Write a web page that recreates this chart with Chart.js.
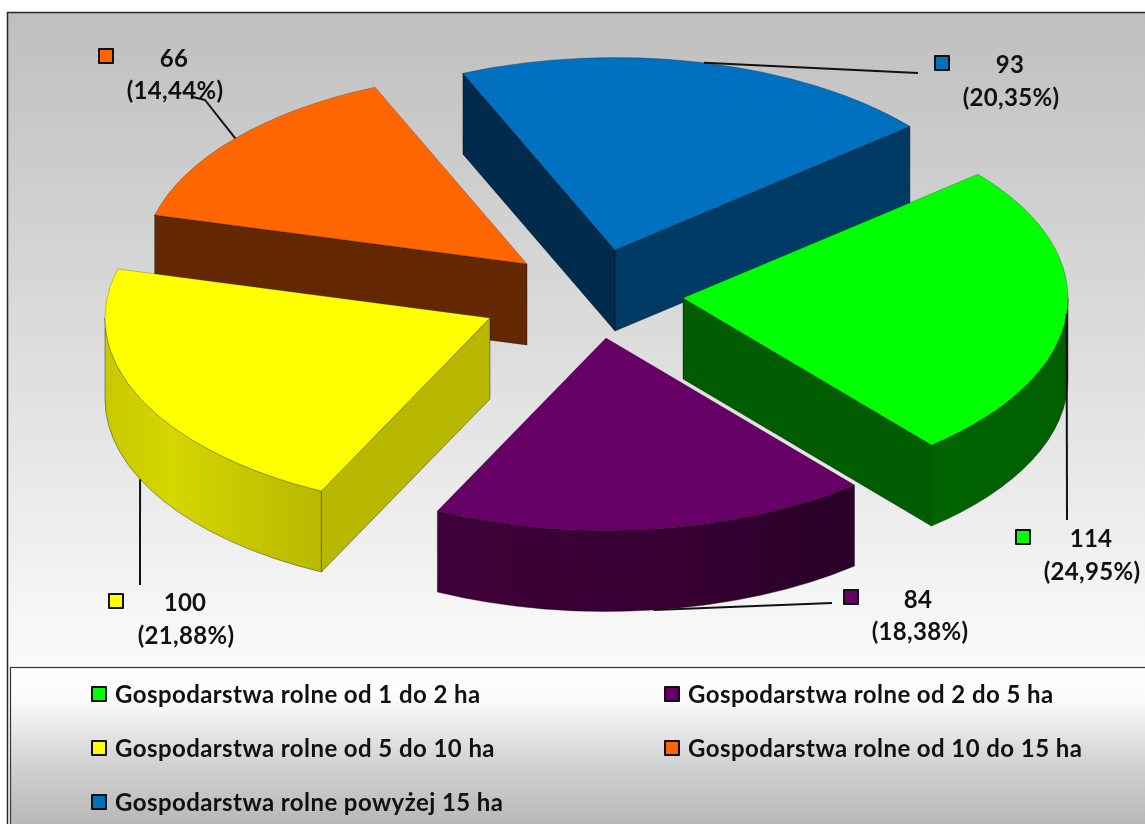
<!DOCTYPE html>
<html><head><meta charset="utf-8">
<style>html,body{margin:0;padding:0;background:#fff}canvas{display:block}</style>
<script src="https://cdn.jsdelivr.net/npm/chart.js@4"></script>
</head><body>
<div style="width:1145px;height:824px;position:relative"><canvas id="c" width="1145" height="824"></canvas></div>
<script>
const categories = ['Gospodarstwa rolne od 1 do 2 ha','Gospodarstwa rolne od 2 do 5 ha','Gospodarstwa rolne od 5 do 10 ha','Gospodarstwa rolne od 10 do 15 ha','Gospodarstwa rolne powyżej 15 ha'];
const values = [114,84,100,66,93];
const topColors = ['#00ff00','#660066','#ffff00','#ff6600','#0070c0'];
const startEdgeColors = ['#005c00','#2a0028','#b8b800','#632800','#002b4c'];
const endEdgeColors = ['#005c00','#2a0028','#b8b800','#632800','#003b66'];
const wallStops = [
  [[0,'#006400'],[1,'#006000']],
  [[0,'#3f0039'],[0.5,'#380034'],[1,'#2a0028']],
  [[0,'#c8c800'],[0.3,'#d6d600'],[1,'#b8b800']],
  [[0,'#632800'],[1,'#632800']],
  [[0,'#003b66'],[1,'#003b66']]
];
const explodeX = [91,14,-102,-65,23];
const explodeY = [2,42,22,-32,-46];
const TILT = 0.5, DEPTH = 81, RADIUS = 385;
const leaderDrop = [0,1,1,0,0];
const labelLayout = [
  {swatch:[1023,537],num:[1091,539],pct:[1092,572],line:[[1067,520]]},
  {swatch:[851,597],num:[918,600],pct:[920,632],line:[[832,603]]},
  {swatch:[116,601],num:[185,603],pct:[186,636],line:[[140,585]]},
  {swatch:[106,56],num:[174,59],pct:[175,91],line:[[205,100],[193,97]]},
  {swatch:[942,63],num:[1010,65],pct:[1011,98],line:[[918,73]]}
];
const legendLayout = [[92,694],[665,694],[92,748],[665,748],[92,802]];
const FONT = 'Lato, Carlito, sans-serif';

function swatch(ctx,cx,cy,color){
  ctx.fillStyle=color;ctx.strokeStyle='#111';ctx.lineWidth=2;
  ctx.fillRect(cx-7,cy-7,14,14);ctx.strokeRect(cx-7,cy-7,14,14);
}
function apex(arc,i){
  return {x:arc.x+explodeX[i],y:arc.y+explodeY[i]};
}
function pt(a,r,ang,dz){return [a.x+r*Math.cos(ang),a.y+r*TILT*Math.sin(ang)+(dz||0)];}

const pie3d = {
  id:'pie3d',
  beforeDraw(chart){
    const c=chart.ctx;
    c.save();
    c.fillStyle='#fff';c.fillRect(0,0,1145,824);
    let g=c.createLinearGradient(0,12,0,668);
    g.addColorStop(0,'#bfbfbf');g.addColorStop(0.5,'#dcdcdc');g.addColorStop(1,'#fbfbfb');
    c.fillStyle=g;c.fillRect(7,12,1140,815);
    c.strokeStyle='#2a2a2a';c.lineWidth=1.5;c.strokeRect(7.5,12.5,1140,815);
    g=c.createLinearGradient(0,667,0,824);
    g.addColorStop(0,'#ffffff');g.addColorStop(0.2,'#fbfbfb');g.addColorStop(0.65,'#cfcfcf');g.addColorStop(1,'#b8b8b8');
    c.fillStyle=g;c.fillRect(10,667,1140,160);
    c.strokeStyle='#333';c.lineWidth=1.2;c.strokeRect(10.5,667.5,1140,160);
    c.restore();
  },
  beforeDatasetsDraw(chart){
    const c=chart.ctx, arcs=chart.getDatasetMeta(0).data;
    const order=arcs.map((a,i)=>i).sort((p,q)=>{
      const s=k=>Math.sin((arcs[k].startAngle+arcs[k].endAngle)/2);return s(p)-s(q);
    });
    order.forEach(i=>{
      const arc=arcs[i],a=apex(arc,i),s=arc.startAngle,e=arc.endAngle,r=arc.outerRadius;
      c.save();
      c.lineWidth=0.8;c.strokeStyle='rgba(0,0,0,0.45)';
      const radial=(ang,col)=>{
        const p=pt(a,r,ang);
        c.beginPath();c.moveTo(a.x,a.y);c.lineTo(p[0],p[1]);c.lineTo(p[0],p[1]+DEPTH);c.lineTo(a.x,a.y+DEPTH);c.closePath();
        c.fillStyle=col;c.fill();c.stroke();
      };
      if(Math.cos(s)<0) radial(s,startEdgeColors[i]);
      if(Math.cos(e)>0) radial(e,endEdgeColors[i]);
      [0,2*Math.PI].forEach(base=>{
        const lo=Math.max(s,base),hi=Math.min(e,base+Math.PI);
        if(hi<=lo) return;
        const p0=pt(a,r,lo),p1=pt(a,r,hi);
        const g=c.createLinearGradient(Math.min(p0[0],p1[0]),0,Math.max(p0[0],p1[0]),0);
        wallStops[i].forEach(st=>g.addColorStop(st[0],st[1]));
        c.beginPath();
        c.ellipse(a.x,a.y,r,r*TILT,0,lo,hi);
        c.ellipse(a.x,a.y+DEPTH,r,r*TILT,0,hi,lo,true);
        c.closePath();c.fillStyle=g;c.fill();c.stroke();
      });
      c.translate(a.x,a.y);c.scale(1,TILT);c.translate(-arc.x,-arc.y);
      arc.draw(c);
      c.restore();
    });
    return false;
  },
  afterDraw(chart){
    const c=chart.ctx, arcs=chart.getDatasetMeta(0).data, vals=chart.data.datasets[0].data;
    const total=vals.reduce((p,q)=>p+q,0);
    c.save();
    arcs.forEach((arc,i)=>{
      const a=apex(arc,i),m=(arc.startAngle+arc.endAngle)/2,p=pt(a,arc.outerRadius,m,leaderDrop[i]*DEPTH),L=labelLayout[i];
      c.strokeStyle='#111';c.lineWidth=2;c.lineJoin='round';
      c.beginPath();c.moveTo(p[0],p[1]);L.line.forEach(q=>c.lineTo(q[0],q[1]));c.stroke();
      swatch(c,L.swatch[0],L.swatch[1],topColors[i]);
      c.fillStyle='#111';c.textAlign='center';c.textBaseline='middle';
      c.letterSpacing='0.3px';
      c.font='bold 24px '+FONT;
      c.fillText(String(vals[i]),L.num[0],L.num[1]);
      c.fillText('('+(vals[i]/total*100).toFixed(2).replace('.',',')+'%)',L.pct[0],L.pct[1]);
    });
    chart.data.labels.forEach((t,i)=>{
      const q=legendLayout[i];
      swatch(c,q[0]+7,q[1],topColors[i]);
      c.fillStyle='#111';c.textAlign='left';c.textBaseline='middle';
      c.letterSpacing='0.42px';
      c.font='bold 24px '+FONT;
      c.fillText(t,q[0]+23,q[1]+1);
    });
    c.restore();
  }
};

new Chart(document.getElementById('c'),{
  type:'pie',
  data:{labels:categories,datasets:[{data:values,backgroundColor:topColors,borderColor:'rgba(0,0,0,0.3)',borderWidth:1,radius:RADIUS}]},
  options:{
    responsive:false,animation:false,rotation:50,
    layout:{padding:{left:39,right:0,top:0,bottom:232}},
    plugins:{legend:{display:false},tooltip:{enabled:false}}
  },
  plugins:[pie3d]
});
</script>
</body></html>
